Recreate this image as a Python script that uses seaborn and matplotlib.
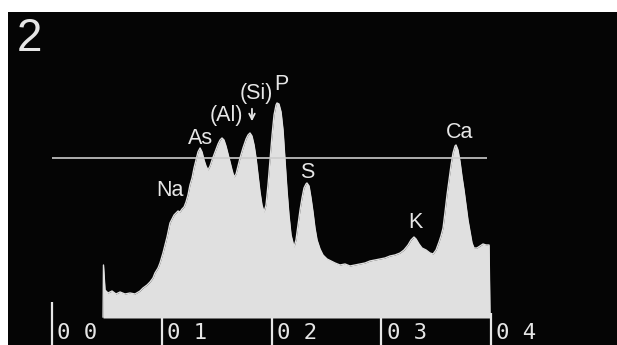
import matplotlib
matplotlib.use("Agg")
import matplotlib.pyplot as plt
import seaborn as sns
import pandas as pd

# EDX spectrum: energy in keV, counts in arbitrary units
energy_kev = [0.465, 0.469, 0.483, 0.510, 0.547, 0.583, 0.620, 0.665, 0.711, 0.756,
              0.802, 0.829, 0.866, 0.893, 0.920, 0.938, 0.966, 0.984, 1.011, 1.030,
              1.048, 1.066, 1.075, 1.093, 1.112, 1.130, 1.148, 1.166, 1.185, 1.203,
              1.221, 1.239, 1.257, 1.276, 1.294, 1.312, 1.330, 1.349, 1.367, 1.385,
              1.403, 1.421, 1.440, 1.458, 1.485, 1.513, 1.531, 1.549, 1.567, 1.585,
              1.604, 1.622, 1.640, 1.658, 1.677, 1.695, 1.713, 1.740, 1.768, 1.786,
              1.804, 1.822, 1.841, 1.859, 1.877, 1.895, 1.913, 1.932, 1.950, 1.968,
              1.986, 2.005, 2.023, 2.041, 2.050, 2.068, 2.087, 2.105, 2.123, 2.141,
              2.159, 2.178, 2.205, 2.223, 2.241, 2.260, 2.278, 2.296, 2.314, 2.323,
              2.342, 2.360, 2.378, 2.396, 2.415, 2.442, 2.469, 2.506, 2.542, 2.579,
              2.624, 2.670, 2.715, 2.761, 2.806, 2.852, 2.897, 2.943, 2.989, 3.034,
              3.080, 3.125, 3.171, 3.207, 3.244, 3.271, 3.298, 3.317, 3.344, 3.371,
              3.408, 3.444, 3.472, 3.499, 3.526, 3.544, 3.563, 3.581, 3.599, 3.617,
              3.636, 3.654, 3.672, 3.681, 3.699, 3.718, 3.736, 3.754, 3.772, 3.790,
              3.809, 3.827, 3.845, 3.872, 3.900, 3.927, 3.954, 3.982, 3.991]
counts = [0, 52, 27, 24, 26, 23, 25, 23, 24, 23,
          26, 29, 32, 35, 39, 44, 49, 54, 64, 72,
          80, 89, 94, 98, 102, 104, 106, 105, 108, 110,
          115, 122, 132, 139, 149, 157, 165, 169, 165, 157,
          151, 147, 151, 157, 165, 173, 177, 179, 177, 171,
          163, 155, 147, 140, 143, 151, 159, 169, 178, 182,
          184, 181, 172, 159, 142, 125, 112, 105, 112, 132,
          157, 182, 202, 212, 214, 213, 205, 187, 157, 127,
          102, 82, 70, 77, 92, 107, 119, 129, 133, 134,
          131, 119, 105, 89, 77, 68, 62, 58, 56, 54,
          52, 53, 51, 52, 53, 54, 56, 57, 58, 59,
          61, 62, 64, 67, 72, 77, 80, 78, 73, 69,
          67, 64, 63, 67, 75, 81, 89, 105, 122, 137,
          152, 164, 171, 172, 167, 155, 140, 127, 112, 97,
          85, 74, 69, 69, 71, 73, 72, 72, 0]

# peak labels
peak_names = ["Na", "As", "(Al)", "(Si)", "P", "S", "K", "Ca"]
peak_x = [1.075, 1.349, 1.585, 1.859, 2.087, 2.323, 3.307, 3.717]
peak_y = [126, 179, 202, 224, 233, 145, 94, 185]

# energy scale at the bottom
tick_pos = [0, 1, 2, 3, 4]
tick_labels = ["0 0", "0 1", "0 2", "0 3", "0 4"]
tick_top = [15, -1, -1, -1, 4]

ref_level = 159  # horizontal marker line

spec = pd.DataFrame({"energy": energy_kev, "counts": counts})

fig = plt.figure(figsize=(6.17, 3.45), dpi=100, facecolor="white")
ax = fig.add_axes([8 / 617, 0, 609 / 617, 333 / 345])
ax.set_facecolor("#050505")

fg = "#e6e6e6"
ax.fill_between(spec["energy"], spec["counts"], -1, color="#e0e0e0", lw=0)
sns.lineplot(data=spec, x="energy", y="counts", color="#e0e0e0", lw=1, ax=ax,
             sort=False)

ax.hlines(ref_level, 0, 3.96, color="#cccccc", lw=1.2)
ax.vlines(tick_pos, -28, tick_top, color=fg, lw=1.6)
for p, lab in zip(tick_pos, tick_labels):
    ax.text(p + 0.05, -16, lab, color=fg, fontsize=16, family="DejaVu Sans Mono",
            ha="left", va="center")

lab_font = ["Liberation Sans", "DejaVu Sans"]
for name, x, y in zip(peak_names, peak_x, peak_y):
    ax.text(x, y, name, color=fg, fontsize=15.5, family=lab_font,
            ha="center", va="center")
# arrow marking the Si peak
ax.annotate("", xy=(1.822, 193), xytext=(1.822, 211),
            arrowprops=dict(arrowstyle="->", color=fg, lw=1.3))

ax.text(0.036, 0.919, "2", transform=ax.transAxes, color=fg, fontsize=33,
        family=lab_font, ha="center", va="center")

ax.set_xlim(-0.401, 5.148)
ax.set_ylim(-28, 305)
ax.set_xlabel("")
ax.set_ylabel("")
ax.set_xticks([])
ax.set_yticks([])
for s in ax.spines.values():
    s.set_visible(False)

fig.savefig("out.png", dpi=100, facecolor="white")
